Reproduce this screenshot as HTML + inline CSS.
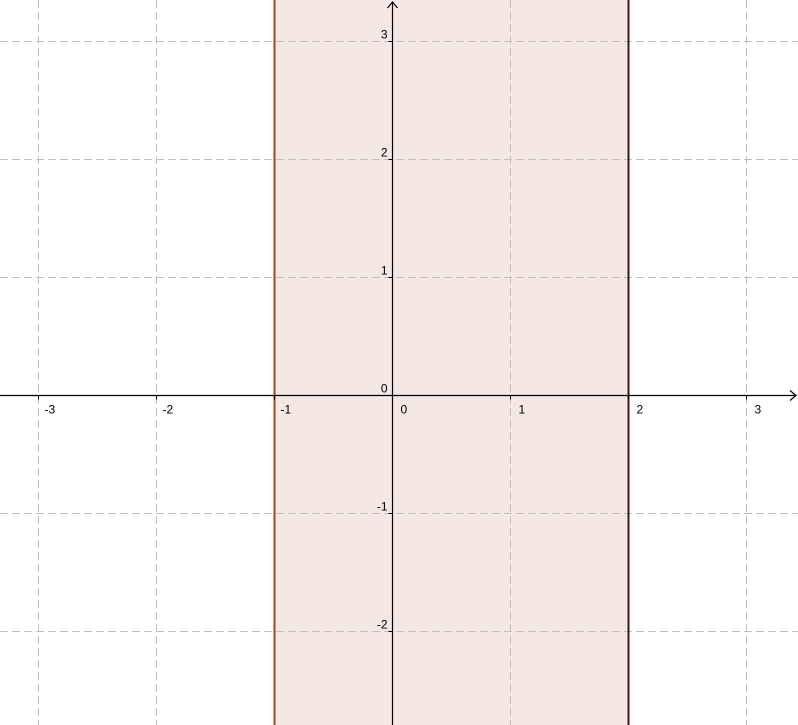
<!DOCTYPE html>
<html><head><meta charset="utf-8"><style>
html,body{margin:0;padding:0;background:#fff;}
svg{display:block;font-family:"Liberation Sans",sans-serif;}
</style></head><body>
<svg id="chart" width="798" height="725" viewBox="0 0 798 725" xmlns="http://www.w3.org/2000/svg"></svg>
<script>
const xTicks = [-3,-2,-1,0,1,2,3];
const yTicks = [-2,-1,1,2,3];
const bandLow = [-1];
const bandHigh = [2];

const W=798,H=725,X0=392.5,Y0=395.5,U=118;
const sx=v=>X0+v*U, sy=v=>Y0-v*U;
const NS="http://www.w3.org/2000/svg";
const svg=document.getElementById('chart');
function mk(tag,attrs,parent){const e=document.createElementNS(NS,tag);for(const k in attrs)e.setAttribute(k,attrs[k]);(parent||svg).appendChild(e);return e;}

const band=mk('rect',{x:sx(bandLow[0]),y:0,width:sx(bandHigh[0])-sx(bandLow[0]),height:H,fill:'#f4e8e5'});



const grid=mk('g',{});


xTicks.forEach(v=>{ if(v===0)return;
  const l=mk('line',{x1:sx(v),x2:sx(v),y1:0,y2:H,stroke:'#c0c0c0','stroke-dasharray':'8,4','stroke-width':1},grid);
  
  
});
yTicks.forEach(v=>{
  const l=mk('line',{x1:0,x2:W,y1:sy(v),y2:sy(v),stroke:'#c0c0c0','stroke-dasharray':'8,4','stroke-width':1},grid);
  
  
});

const bl=mk('line',{x1:sx(bandLow[0]),x2:sx(bandLow[0]),y1:0,y2:H,stroke:'#b0450f','stroke-width':2});


const br=mk('line',{x1:sx(bandHigh[0]),x2:sx(bandHigh[0]),y1:0,y2:H,stroke:'#3a1a0a','stroke-width':2});



const xa=mk('g',{});


mk('line',{x1:0,x2:W-2,y1:Y0,y2:Y0,stroke:'#000','stroke-width':1.2},xa);
mk('path',{d:`M${W-8},${Y0-5}L${W-2},${Y0}L${W-8},${Y0+5}`,fill:'none',stroke:'#000','stroke-width':1.2},xa);
xTicks.forEach(v=>{
  mk('line',{x1:sx(v),x2:sx(v),y1:Y0,y2:Y0+4,stroke:'#000'},xa);
  const t=mk('text',{x:sx(v)+(v<0?6:8),y:Y0+18,'font-size':12,fill:'#000'},xa);
  t.textContent=String(v);
  
  
});
const ya=mk('g',{});


mk('line',{x1:X0,x2:X0,y1:2,y2:H,stroke:'#000','stroke-width':1.2},ya);
mk('path',{d:`M${X0-5},${8}L${X0},${2}L${X0+5},${8}`,fill:'none',stroke:'#000','stroke-width':1.2},ya);
yTicks.concat([0]).forEach(v=>{
  if(v!==0) mk('line',{x1:X0-4,x2:X0,y1:sy(v),y2:sy(v),stroke:'#000'},ya);
  const t=mk('text',{x:X0-5,y:sy(v)-3,'font-size':12,fill:'#000','text-anchor':'end'},ya);
  t.textContent=String(v);
  
  
});
</script>
</body></html>
